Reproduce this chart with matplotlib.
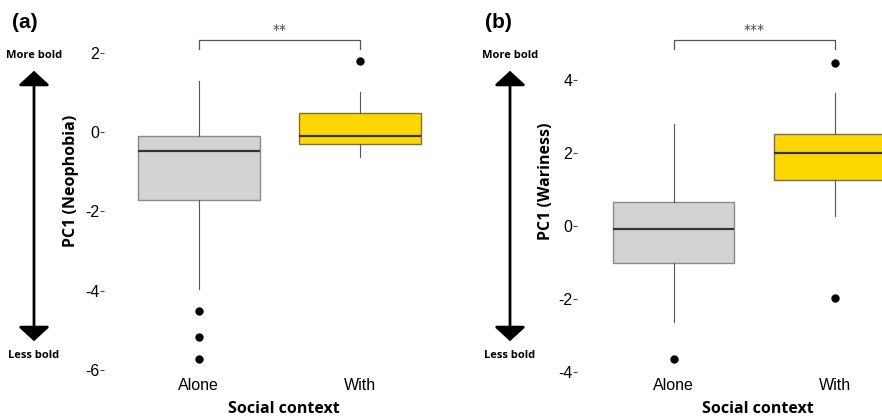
import matplotlib.pyplot as plt
from matplotlib.patches import FancyArrowPatch

W, H = 882, 418

groups = ['Alone', 'With']
colors = ['#d3d3d3', '#ffd700']
edges = ['#8a8a8a', '#7d7040']

# panel (a) PC1 neophobia
a_q1 = [-1.72, -0.30]
a_med = [-0.47, -0.09]
a_q3 = [-0.10, 0.48]
a_lo = [-3.95, -0.63]
a_hi = [1.28, 1.00]
a_out = [[-4.50, -5.17, -5.72], [1.79]]

# panel (b) PC1 wariness
b_q1 = [-1.00, 1.27]
b_med = [-0.08, 2.00]
b_q3 = [0.67, 2.52]
b_lo = [-2.63, 0.27]
b_hi = [2.80, 3.65]
b_out = [[-3.63], [4.47, -1.96]]


def px(x0, y0, x1, y1):
    # pixel box (top-down) -> figure fraction rect
    return [x0 / W, 1 - y1 / H, (x1 - x0) / W, (y1 - y0) / H]


def panel(ax, q1, med, q3, lo, hi, out, ylim, xlim, yticks, ylabel,
          stars, bracket, xlab_x):
    stats = []
    for i in range(2):
        stats.append(dict(med=med[i], q1=q1[i], q3=q3[i], whislo=lo[i],
                          whishi=hi[i], fliers=out[i], label=groups[i]))
    bp = ax.bxp(stats, positions=[1, 2], widths=0.754, patch_artist=True,
                showcaps=False,
                medianprops=dict(color='#333333', lw=1.6),
                whiskerprops=dict(color='#555555', lw=0.8),
                flierprops=dict(marker='o', markerfacecolor='black',
                                markeredgecolor='black', markersize=5))
    for b, c, e in zip(bp['boxes'], colors, edges):
        b.set_facecolor(c)
        b.set_edgecolor(e)
        b.set_linewidth(1.0)
    ax.set_xlim(*xlim)
    ax.set_ylim(*ylim)
    ax.set_yticks(yticks)
    ax.set_yticklabels([str(t) for t in yticks], fontsize=11.5,
                       family='Liberation Sans')
    ax.set_xticks([1, 2])
    ax.set_xticklabels(groups, fontsize=11.5, family='Liberation Sans')
    ax.tick_params(axis='y', length=3, width=0.8, color='#444444', pad=0.5)
    ax.tick_params(axis='x', length=0, pad=2)
    for s in ax.spines.values():
        s.set_visible(False)
    ax.set_ylabel(ylabel, fontsize=11.5, fontweight='bold', family='Open Sans')
    ax.yaxis.set_label_coords(-0.074, 0.546)
    ax.set_xlabel('Social context', fontsize=11.5, fontweight='bold',
                  family='Open Sans')
    ax.xaxis.set_label_coords(xlab_x, -0.074)
    y0, y1 = bracket
    ax.plot([1, 1, 2, 2], [y0, y1, y1, y0], color='#555555', lw=0.9,
            clip_on=False)
    ax.text(1.5, y1 + (y1 - y0) * 0.3, stars, ha='center', va='bottom',
            fontsize=10, color='#444444')


fig = plt.figure(figsize=(W / 100, H / 100), dpi=100)

ax1 = fig.add_axes(px(104, 20, 440, 375))
panel(ax1, a_q1, a_med, a_q3, a_lo, a_hi, a_out,
      ylim=(-6.12, 2.82), xlim=(0.411, 2.498), yticks=[-6, -4, -2, 0, 2],
      ylabel='PC1 (Neophobia)', stars='**', bracket=(2.09, 2.32),
      xlab_x=0.536)

ax2 = fig.add_axes(px(577, 20, 882, 375))
panel(ax2, b_q1, b_med, b_q3, b_lo, b_hi, b_out,
      ylim=(-4.08, 5.64), xlim=(0.40, 2.294), yticks=[-4, -2, 0, 2, 4],
      ylabel='PC1 (Wariness)', stars='***', bracket=(4.85, 5.10),
      xlab_x=0.593)

for letter, lx, ax_x in [('(a)', 12, 34), ('(b)', 485, 510)]:
    fig.text(lx / W, 1 - 22 / H, letter, fontsize=15, fontweight='bold',
             family='Liberation Sans', va='center', ha='left')
    arr = FancyArrowPatch((ax_x / W, 1 - 68 / H), (ax_x / W, 1 - 344 / H),
                          transform=fig.transFigure,
                          arrowstyle='<|-|>,head_length=0.55,head_width=0.6',
                          mutation_scale=16, lw=2, color='black')
    fig.add_artist(arr)
    fig.text(ax_x / W, 1 - 56 / H, 'More bold', fontsize=8, fontweight='bold',
             family='Open Sans', ha='center', va='center')
    fig.text(ax_x / W, 1 - 355 / H, 'Less bold', fontsize=8, fontweight='bold',
             family='Open Sans', ha='center', va='center')

fig.savefig('out.png', dpi=100)
